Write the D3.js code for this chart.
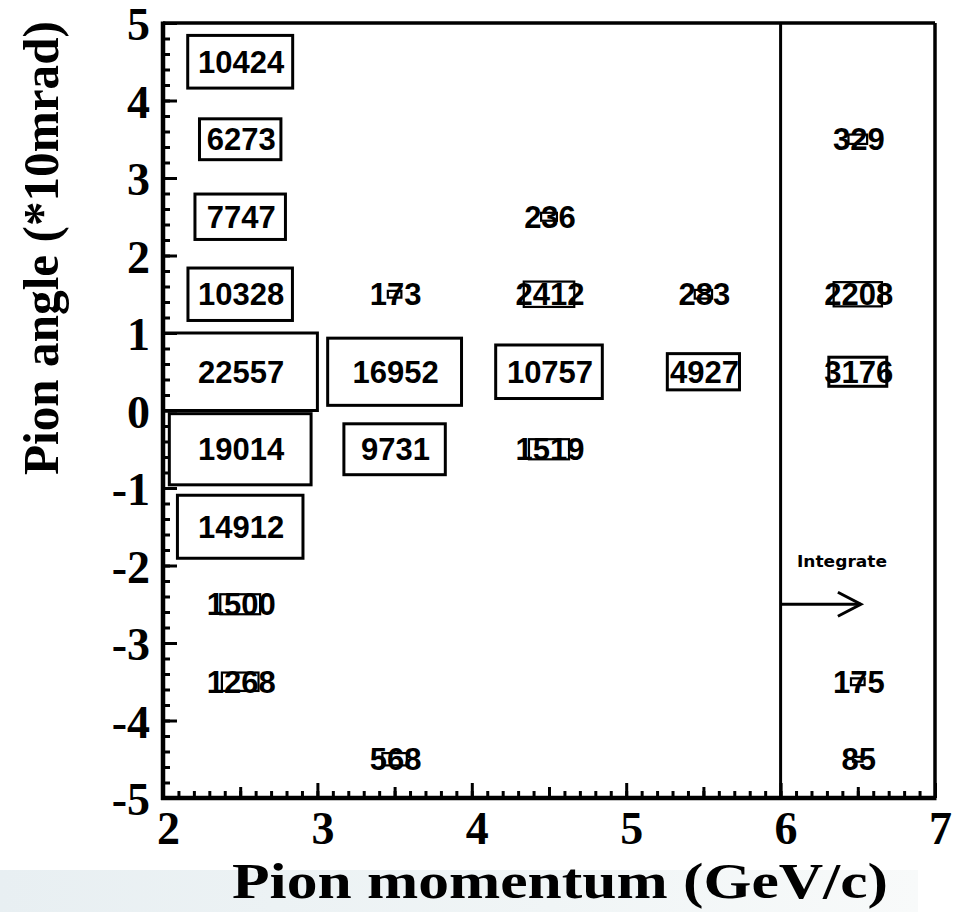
<!DOCTYPE html>
<html>
<head>
<meta charset="utf-8">
<script src="https://cdn.jsdelivr.net/npm/d3@7"></script>
<style>
  html, body { margin: 0; padding: 0; background: #fff; }
  svg { display: block; }
</style>
</head>
<body>
<svg id="chart" width="957" height="912"></svg>
<script>
// Bin centres (momentum in GeV/c, angle in units of 10 mrad) and counts per cell
const cellMomentum = [2.5, 2.5, 2.5, 2.5, 2.5, 2.5, 2.5, 2.5, 2.5,
                      3.5, 3.5, 3.5, 3.5,
                      4.5, 4.5, 4.5, 4.5,
                      5.5, 5.5,
                      6.5, 6.5, 6.5, 6.5, 6.5];
const cellAngle    = [4.5, 3.5, 2.5, 1.5, 0.5, -0.5, -1.5, -2.5, -3.5,
                      1.5, 0.5, -0.5, -4.5,
                      2.5, 1.5, 0.5, -0.5,
                      1.5, 0.5,
                      3.5, 1.5, 0.5, -3.5, -4.5];
const cellCounts   = [10424, 6273, 7747, 10328, 22557, 19014, 14912, 1500, 1268,
                      173, 16952, 9731, 568,
                      236, 2412, 10757, 1519,
                      283, 4927,
                      329, 2208, 3176, 175, 85];

const xTicks = [2, 3, 4, 5, 6, 7];
const yTicks = [-5, -4, -3, -2, -1, 0, 1, 2, 3, 4, 5];
const binWidthX = 1;
const binWidthY = 1;
const integrateEdge = 6;      // momentum beyond which cells are integrated
const arrowEnd = 6.52;
const arrowAngle = -2.5;
const xTitle = "Pion momentum (GeV/c)";
const yTitle = "Pion angle (*10mrad)";

const svg = d3.select("#chart");

const x = d3.scaleLinear().domain([2, 7]).range([163, 935]);
const y = d3.scaleLinear().domain([-5, 5]).range([798, 23]);

// light band behind the bottom title
const defs = svg.append("defs");
const grad = defs.append("linearGradient").attr("id", "band")
  .attr("x1", "0").attr("x2", "1").attr("y1", "0").attr("y2", "0");
grad.append("stop").attr("offset", "0").attr("stop-color", "#e8eff2");
grad.append("stop").attr("offset", "0.6").attr("stop-color", "#f0f5f6");
grad.append("stop").attr("offset", "1").attr("stop-color", "#f8fafa");
svg.append("rect").attr("x", 0).attr("y", 870).attr("width", 918).attr("height", 42)
  .attr("fill", "url(#band)");

// box size scales with sqrt(count / max)
const maxCount = d3.max(cellCounts);
const frac = d3.scaleSqrt().domain([0, maxCount]).range([0, 1]);
const cells = cellCounts.map((c, i) => ({ px: cellMomentum[i], py: cellAngle[i], n: c }));

const boxW = d => (x(binWidthX) - x(0)) * frac(d.n);
const boxH = d => (y(0) - y(binWidthY)) * frac(d.n);

svg.append("g").selectAll("rect").data(cells).join("rect")
  .attr("x", d => x(d.px) - boxW(d) / 2)
  .attr("y", d => y(d.py) - boxH(d) / 2)
  .attr("width", boxW)
  .attr("height", boxH)
  .attr("fill", "none")
  .attr("stroke", "#000")
  .attr("stroke-width", d => d.n > 3000 ? 3 : 2.2);

svg.append("g").selectAll("text").data(cells).join("text")
  .attr("x", d => x(d.px) + 1)
  .attr("y", d => y(d.py) + 11)
  .attr("text-anchor", "middle")
  .attr("font-family", "'Liberation Sans', Arial, sans-serif")
  .attr("font-weight", "bold")
  .attr("font-size", 31)
  .attr("fill", "#000")
  .text(d => d.n);

// integration boundary and arrow
svg.append("line")
  .attr("x1", x(integrateEdge)).attr("x2", x(integrateEdge))
  .attr("y1", y(5)).attr("y2", y(-5))
  .attr("stroke", "#000").attr("stroke-width", 3);
const arrow = svg.append("g").attr("stroke", "#000").attr("stroke-width", 3).attr("fill", "none");
arrow.append("line")
  .attr("x1", x(integrateEdge)).attr("x2", x(arrowEnd))
  .attr("y1", y(arrowAngle)).attr("y2", y(arrowAngle));
arrow.append("path")
  .attr("d", `M${x(arrowEnd) - 23},${y(arrowAngle) - 12} L${x(arrowEnd)},${y(arrowAngle)} L${x(arrowEnd) - 23},${y(arrowAngle) + 12}`);
svg.append("text")
  .attr("x", 797).attr("y", 567)
  .attr("font-family", "'DejaVu Sans', sans-serif")
  .attr("font-weight", "bold")
  .attr("font-size", 15)
  .attr("textLength", 90)
  .attr("lengthAdjust", "spacingAndGlyphs")
  .text("Integrate");

const plain = d => String(d);

// axes: ticks point into the frame
const yMinor = d3.range(-5, 5.001, 0.2).map(v => +v.toFixed(2));
svg.append("g")
  .attr("transform", `translate(${x(2)},0)`)
  .call(d3.axisLeft(y).tickValues(yMinor).tickSize(-7).tickFormat(""))
  .call(g => g.select(".domain").remove())
  .call(g => g.selectAll("line").attr("stroke-width", 3));
svg.append("g")
  .attr("transform", `translate(${x(2)},0)`)
  .call(d3.axisLeft(y).tickValues(yTicks).tickSize(-14).tickPadding(13).tickFormat(plain))
  .call(g => g.select(".domain").remove())
  .call(g => g.selectAll("line").attr("stroke-width", 3))
  .call(g => g.selectAll("text")
    .attr("font-family", "'Liberation Serif', 'Times New Roman', serif")
    .attr("font-weight", "bold")
    .attr("font-size", 46)
    .attr("fill", "#000")
    .attr("dy", "0.36em"));

const xMinor = d3.range(2, 7.001, 0.1).map(v => +v.toFixed(2));
const xHalf = d3.range(2.5, 7, 1);
svg.append("g")
  .attr("transform", `translate(0,${y(-5)})`)
  .call(d3.axisBottom(x).tickValues(xMinor).tickSize(-7).tickFormat(""))
  .call(g => g.select(".domain").remove())
  .call(g => g.selectAll("line").attr("stroke-width", 3));
svg.append("g")
  .attr("transform", `translate(0,${y(-5)})`)
  .call(d3.axisBottom(x).tickValues(xHalf).tickSize(-11).tickFormat(""))
  .call(g => g.select(".domain").remove())
  .call(g => g.selectAll("line").attr("stroke-width", 3));
svg.append("g")
  .attr("transform", `translate(0,${y(-5)})`)
  .call(d3.axisBottom(x).tickValues(xTicks).tickSize(-15).tickPadding(18).tickFormat(plain))
  .call(g => g.select(".domain").remove())
  .call(g => g.selectAll("line").attr("stroke-width", 3))
  .call(g => g.selectAll("text")
    .attr("font-family", "'Liberation Serif', 'Times New Roman', serif")
    .attr("font-weight", "bold")
    .attr("font-size", 46)
    .attr("fill", "#000")
    .attr("dx", 5)
    .attr("dy", "0.6em"));

// frame
svg.append("line").attr("x1", x(2)).attr("x2", x(7)).attr("y1", y(5)).attr("y2", y(5))
  .attr("stroke", "#000").attr("stroke-width", 3.5);
svg.append("line").attr("x1", x(7)).attr("x2", x(7)).attr("y1", y(5)).attr("y2", y(-5))
  .attr("stroke", "#000").attr("stroke-width", 3.5);
svg.append("line").attr("x1", x(2)).attr("x2", x(2)).attr("y1", y(5) - 1.5).attr("y2", y(-5) + 2)
  .attr("stroke", "#000").attr("stroke-width", 4.5);
svg.append("line").attr("x1", x(2) - 2).attr("x2", x(7) + 1.5).attr("y1", y(-5)).attr("y2", y(-5))
  .attr("stroke", "#000").attr("stroke-width", 4.5);

// axis titles
svg.append("text")
  .attr("x", 560).attr("y", 898)
  .attr("text-anchor", "middle")
  .attr("font-family", "'Liberation Serif', 'Times New Roman', serif")
  .attr("font-weight", "bold")
  .attr("font-size", 50)
  .attr("textLength", 656)
  .attr("lengthAdjust", "spacingAndGlyphs")
  .text(xTitle);
svg.append("text")
  .attr("transform", "translate(58,248) rotate(-90)")
  .attr("text-anchor", "middle")
  .attr("font-family", "'Liberation Serif', 'Times New Roman', serif")
  .attr("font-weight", "bold")
  .attr("font-size", 50)
  .attr("textLength", 454)
  .attr("lengthAdjust", "spacingAndGlyphs")
  .text(yTitle);
</script>
</body>
</html>
